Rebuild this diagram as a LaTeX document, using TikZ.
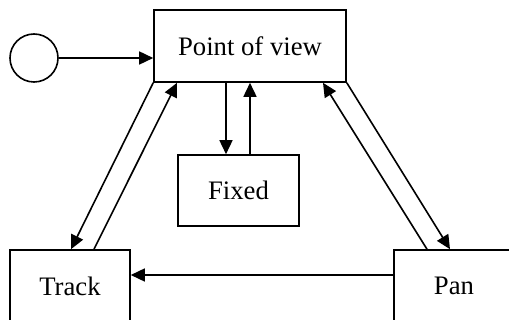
\documentclass[tikz,border=0pt]{standalone}
\usepackage{fontspec}
\setmainfont{Liberation Serif}
\usetikzlibrary{arrows.meta}
\begin{document}
\begin{tikzpicture}[x=1pt,y=-1pt,
  line width=1.6pt,
  statebox/.style={draw, rectangle, inner sep=0pt, font=\fontsize{26.7}{32}\selectfont},
  arr/.style={-{Triangle[length=14pt,width=13pt]}}]
\clip (0,0) rectangle (509,320);
\useasboundingbox (0,0) rectangle (509,320);
% states
\node[draw, circle, minimum size=48pt, inner sep=0pt] (start) at (34,58) {};
\node[statebox, minimum width=192pt, minimum height=72pt] (pov) at (250,46) {Point of view};
\node[statebox, minimum width=121pt, minimum height=71pt] (fixed) at (238.5,190.5) {Fixed};
\node[statebox, minimum width=120pt, minimum height=72pt] (track) at (70,286) {Track};
\node[statebox, minimum width=120pt, minimum height=72pt] (pan) at (454,286) {Pan};
% transitions
\draw[arr] (start.east) -- (start.east -| pov.west);
\draw[arr] (pov.south -| 226,0) -- (fixed.north -| 226,0);
\draw[arr] (fixed.north -| 250,0) -- (pov.south -| 250,0);
\draw[arr] (pov.south west) -- (track.north -| 71,0);
\draw[arr] (track.north -| 94,0) -- (pov.south -| 177,0);
\draw[arr] (pov.south east) -- (pan.north -| 450,0);
\draw[arr] (pan.north -| 427,0) -- (pov.south -| 323,0);
\draw[arr] (pan.west |- 0,275) -- (track.east |- 0,275);
\end{tikzpicture}
\end{document}
